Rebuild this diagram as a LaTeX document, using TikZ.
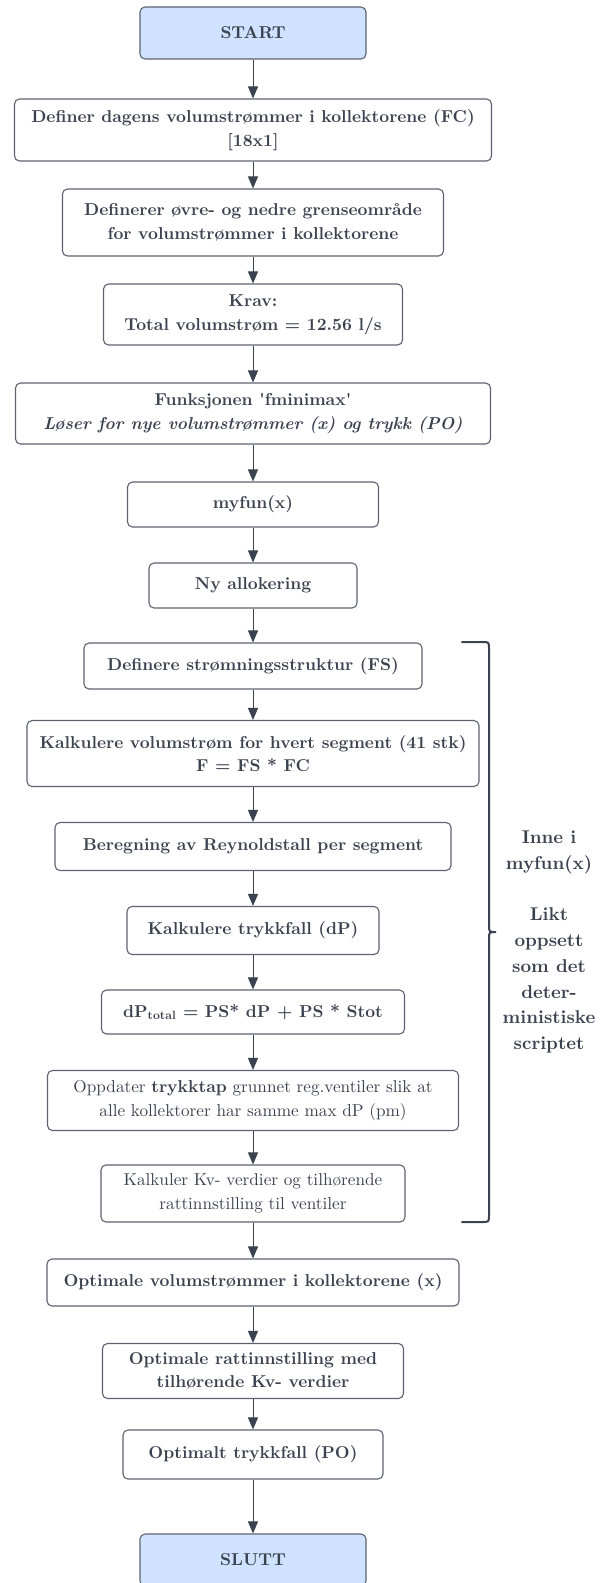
\documentclass[tikz,border=0pt]{standalone}
\usepackage{fontspec}
\setmainfont{lmroman10-regular.otf}[BoldFont=lmroman10-bold.otf, ItalicFont=lmroman10-italic.otf, BoldItalicFont=lmroman10-bolditalic.otf]
\newfontfamily\flowquote{lmroman10-bold.otf}
\usetikzlibrary{arrows.meta}
\definecolor{flowInk}{HTML}{3B4250}
\definecolor{flowLine}{HTML}{5C6370}
\definecolor{flowBlue}{HTML}{CFE2FF}
\newcommand{\flowfont}{\fontsize{17.2}{23.5}\selectfont}
\newcommand{\sidefont}{\fontsize{18.5}{25.75}\selectfont}
\tikzset{
  flow box/.style={draw=flowLine, line width=1.1pt, rounded corners=5pt, align=center, text=flowInk, font=\flowfont\bfseries, inner sep=0pt},
  flow plain/.style={flow box, font=\flowfont},
  flow end/.style={flow box, fill=flowBlue},
  flow arrow/.style={draw=flowInk, line width=1pt, -{Triangle[width=10pt,length=12pt]}},
  flow brace/.style={draw=flowInk, line width=2pt, line cap=round},
  flow note/.style={align=center, text=flowInk, font=\sidefont\bfseries},
}

\begin{document}
\begin{tikzpicture}[x=1pt, y=-1pt]
  \useasboundingbox (0,0) rectangle (600,1583);

  % Main chain of steps
  \node[flow end, minimum width=226pt, minimum height=52pt] (start) at (253,33) {START};
  \node[flow box, minimum width=477pt, minimum height=62pt] (dagens) at (253,130) {Definer dagens volumstrømmer i kollektorene (FC)\\ {[18x1]}};
  \node[flow box, minimum width=381pt, minimum height=67pt] (grenser) at (253,222.5) {Definerer øvre- og nedre grenseområde\\ for volumstrømmer i kollektorene};
  \node[flow box, minimum width=299pt, minimum height=61pt] (krav) at (253,314.5) {Krav:\\ Total volumstrøm = 12.56 l/s};
  \node[flow box, minimum width=475pt, minimum height=61pt] (fminimax) at (253,413.5) {Funksjonen {\flowquote'}fminimax{\flowquote'}\\ \itshape Løser for nye volumstrømmer (x) og trykk (PO)};
  \node[flow box, minimum width=251pt, minimum height=45pt] (myfun) at (253,504.5) {myfun(x)};
  \node[flow box, minimum width=208pt, minimum height=45pt] (nyalloc) at (253,585.5) {Ny allokering};

  % Inside myfun(x)
  \node[flow box, minimum width=338pt, minimum height=46pt] (struktur) at (253,666) {Definere strømningsstruktur (FS)};
  \node[flow box, minimum width=452pt, minimum height=66pt] (segment) at (253,753.5) {Kalkulere volumstrøm for hvert segment (41 stk)\\ F = FS * FC};
  \node[flow box, minimum width=396pt, minimum height=48pt] (reynolds) at (253,846.5) {Beregning av Reynoldstall per segment};
  \node[flow box, minimum width=252pt, minimum height=48pt] (trykkfall) at (253,930.5) {Kalkulere trykkfall (dP)};
  \node[flow box, minimum width=303pt, minimum height=44pt] (dptotal) at (253,1012) {dP\textsubscript{total} = PS* dP + PS * Stot};
  \node[flow plain, minimum width=411pt, minimum height=60pt] (trykktap) at (253,1100.5) {Oppdater \textbf{trykktap} grunnet reg.ventiler slik at\\ alle kollektorer har samme max dP (pm)};
  \node[flow plain, minimum width=304pt, minimum height=57pt] (kvverdi) at (253,1193.5) {Kalkuler Kv- verdier og tilhørende\\ rattinnstilling til ventiler};

  % Results
  \node[flow box, minimum width=412pt, minimum height=47pt] (optflow) at (253,1282.5) {Optimale volumstrømmer i kollektorene (x)};
  \node[flow box, minimum width=301pt, minimum height=55pt] (optratt) at (253,1371) {Optimale rattinnstilling med\\ tilhørende Kv- verdier};
  \node[flow box, minimum width=260pt, minimum height=49pt] (optdp) at (253,1454.5) {Optimalt trykkfall (PO)};
  \node[flow end, minimum width=226pt, minimum height=52pt] (slutt) at (253,1560) {SLUTT};

  \foreach \a/\b in {start/dagens, dagens/grenser, grenser/krav, krav/fminimax, fminimax/myfun,
      myfun/nyalloc, nyalloc/struktur, struktur/segment, segment/reynolds, reynolds/trykkfall,
      trykkfall/dptotal, dptotal/trykktap, trykktap/kvverdi, kvverdi/optflow, optflow/optratt,
      optratt/optdp, optdp/slutt}
    \draw[flow arrow] (\a) -- (\b);

  % Brace round the myfun(x) steps
  \draw[flow brace] (462,642) -- (482,642) .. controls (489,642) .. (489,649)
    -- (489,925) .. controls (489,932) .. (496,932) .. controls (489,932) .. (489,939)
    -- (489,1215) .. controls (489,1222) .. (482,1222) -- (462,1222);
  \node[flow note] (note) at (549,942) {Inne i\\ myfun(x)\\[25.75pt] Likt\\ oppsett\\ som det\\ deter-\\ ministiske\\ scriptet};
\end{tikzpicture}
\end{document}
